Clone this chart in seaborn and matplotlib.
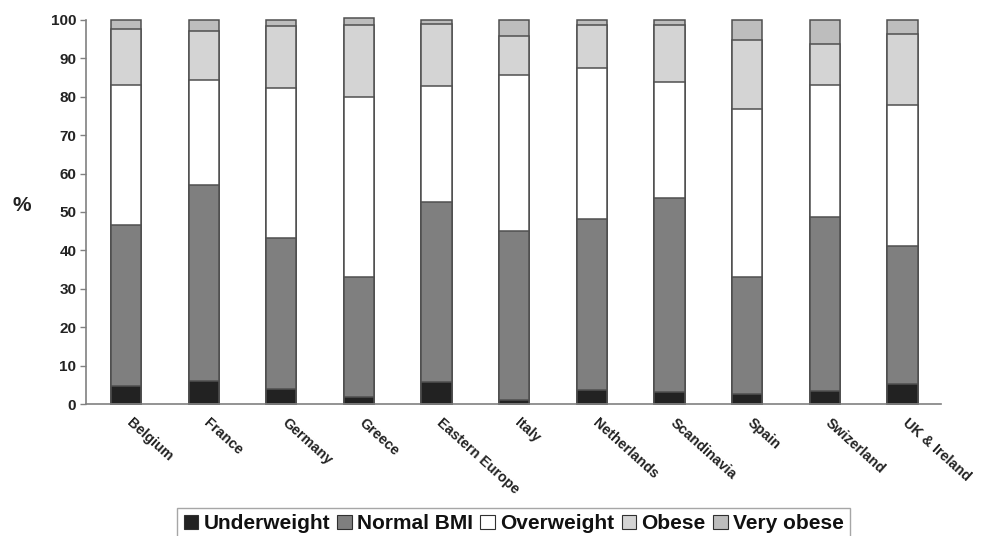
import matplotlib
matplotlib.use("Agg")
import matplotlib.pyplot as plt
import matplotlib.transforms as mtransforms
import seaborn as sns
import numpy as np
import pandas as pd
from matplotlib.patches import Patch

countries = ["Belgium", "France", "Germany", "Greece", "Eastern Europe", "Italy",
             "Netherlands", "Scandinavia", "Spain", "Swizerland", "UK & Ireland"]
# cumulative tops of each category (%)
underweight_top = [4.8, 5.9, 4.0, 1.9, 5.7, 1.0, 3.8, 3.1, 2.7, 3.5, 5.2]
normal_top      = [46.5, 57.1, 43.2, 33.0, 52.5, 45.0, 48.2, 53.6, 33.2, 48.6, 41.2]
overweight_top  = [83.0, 84.4, 82.3, 79.9, 82.8, 85.7, 87.4, 83.8, 76.8, 83.0, 77.8]
obese_top       = [97.6, 97.2, 98.5, 98.6, 98.9, 95.7, 98.6, 98.6, 94.7, 93.7, 96.2]
very_obese_top  = [100.0, 100.0, 100.0, 100.5, 100.0, 100.0, 100.0, 100.0, 100.0, 100.0, 100.0]

series_names = ["Underweight", "Normal BMI", "Overweight", "Obese", "Very obese"]
series_tops = [underweight_top, normal_top, overweight_top, obese_top, very_obese_top]
colors = ["#222222", "#7f7f7f", "#ffffff", "#d4d4d4", "#bdbdbd"]

sns.set_style("white")
plt.rcParams["font.family"] = ["Liberation Sans", "DejaVu Sans"]

fig = plt.figure(figsize=(9.82, 5.36), dpi=100)
ax = fig.add_axes([0.0876, 0.246, 0.871, 0.717])

# draw tallest cumulative first so shorter ones overlay
for name, tops, col in reversed(list(zip(series_names, series_tops, colors))):
    df = pd.DataFrame({"country": countries, "value": tops})
    sns.barplot(data=df, x="country", y="value", color=col, ax=ax,
                width=0.39, edgecolor="#505050", linewidth=1.1, saturation=1)

for p in ax.patches:
    p.set_clip_on(False)

ax.set_ylim(0, 100)
ax.set_xlim(-0.515, 10.5)
ax.set_yticks(np.arange(0, 101, 10))
ax.set_xlabel("")
ax.set_ylabel("")
ax.tick_params(axis="y", which="both", left=True, length=4, width=1, color="#808080",
               labelsize=11, pad=3)
ax.tick_params(axis="x", bottom=False, labelsize=10.3, pad=5)
for lab in ax.get_yticklabels():
    lab.set_fontweight("bold")
    lab.set_color("#222222")
ax.set_xticks(range(len(countries)))
ax.set_xticklabels(countries, rotation=-42, ha="left", rotation_mode="anchor",
                   fontweight="bold", color="#222222")
offset = mtransforms.ScaledTranslation(7 / 100, 0, fig.dpi_scale_trans)
for lab in ax.get_xticklabels():
    lab.set_transform(lab.get_transform() + offset)
for s in ["top", "right"]:
    ax.spines[s].set_visible(False)
for s in ["left", "bottom"]:
    ax.spines[s].set_color("#808080")
    ax.spines[s].set_linewidth(1.2)

fig.text(0.022, 0.617, "%", fontsize=15, fontweight="bold", color="#222222",
         ha="center", va="center")

handles = [Patch(facecolor=c, edgecolor="#303030", linewidth=0.8) for c in colors]
leg = fig.legend(handles, series_names, loc="upper center", bbox_to_anchor=(0.523, 0.052),
                 ncol=5, frameon=True, handlelength=0.7, handleheight=0.7,
                 handletextpad=0.25, columnspacing=0.35, borderpad=0.3, borderaxespad=0,
                 prop={"weight": "bold", "size": 15}, fancybox=False)
leg.get_frame().set_edgecolor("#909090")
leg.get_frame().set_linewidth(1.0)
for t in leg.get_texts():
    t.set_color("#111111")

fig.savefig("out.png", dpi=100)
